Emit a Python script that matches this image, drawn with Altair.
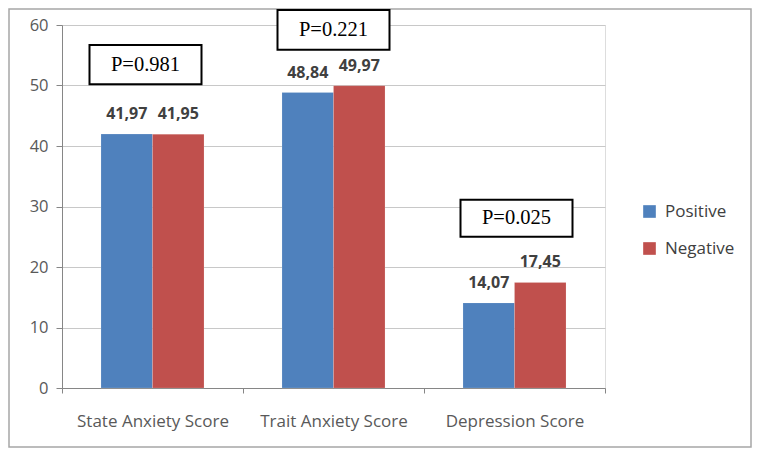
import altair as alt
import pandas as pd

categories = ["State Anxiety Score", "Trait Anxiety Score", "Depression Score"]
groups = ["Positive", "Negative"]
positive = [41.97, 48.84, 14.07]
negative = [41.95, 49.97, 17.45]
p_labels = ["P=0.981", "P=0.221", "P=0.025"]
p_box_top = [56.7, 62.5, 31.1]
p_box_bottom = [50.2, 55.9, 25.0]
p_box_shift = [-7, 0, 2]
y_ticks = [0, 10, 20, 30, 40, 50, 60]

rows = []
for c, pv, nv in zip(categories, positive, negative):
    rows.append({"cat": c, "group": "Positive", "value": pv, "label": f"{pv:.2f}".replace(".", ",")})
    rows.append({"cat": c, "group": "Negative", "value": nv, "label": f"{nv:.2f}".replace(".", ",")})
df = pd.DataFrame(rows)

pdf = pd.DataFrame({"cat": categories, "p": p_labels, "top": p_box_top, "bottom": p_box_bottom,
                    "mid": [(a + b) / 2 for a, b in zip(p_box_top, p_box_bottom)]})

xscale = alt.Scale(domain=categories, paddingInner=0, paddingOuter=0)
xaxis = alt.Axis(title=None, labelAngle=0, labelFont="Open Sans", labelFontSize=17,
                 labelColor="#595959", labelPadding=20, tickBand="extent", tickSize=5,
                 tickColor="#868686", domainColor="#868686", grid=False)
yscale = alt.Scale(domain=[0, 60], nice=False)
yaxis = alt.Axis(title=None, values=y_ticks, labelFont="Open Sans", labelFontSize=16.5,
                 labelColor="#595959", labelPadding=8, tickSize=6, tickColor="#868686",
                 domainColor="#868686", gridColor="#c8c8c8", gridWidth=1.2)

color = alt.Color("group:N", scale=alt.Scale(domain=groups, range=["#4F81BD", "#C0504D"]),
                  legend=alt.Legend(title=None, orient="none", legendX=579, legendY=178,
                                    symbolType="square", symbolSize=160, symbolStrokeWidth=0,
                                    labelFont="Open Sans", labelFontSize=17, labelColor="#404040",
                                    rowPadding=19, labelOffset=7))
xoff = alt.XOffset("group:N", scale=alt.Scale(domain=groups, paddingOuter=0.757, paddingInner=0))

base = alt.Chart(df)
bars = base.mark_bar(stroke="white", strokeWidth=0.5, strokeOpacity=0.3).encode(
    x=alt.X("cat:N", scale=xscale, axis=xaxis, sort=categories),
    xOffset=xoff,
    y=alt.Y("value:Q", scale=yscale, axis=yaxis),
    color=color,
)
labels = base.mark_text(font="Open Sans", fontWeight="bold", fontSize=16, color="#404040",
                        baseline="bottom", dy=-12).encode(
    x=alt.X("cat:N", sort=categories),
    xOffset=xoff,
    y="value:Q",
    text="label:N",
)

p_layers = []
for cat, shift in zip(categories, p_box_shift):
    pbase = alt.Chart(pdf).transform_filter(alt.datum.cat == cat)
    p_layers.append(pbase.mark_bar(width=112, fill="white", stroke="black", strokeWidth=2,
                                   xOffset=shift).encode(
        x=alt.X("cat:N", sort=categories),
        y="top:Q",
        y2="bottom:Q",
    ))
    p_layers.append(pbase.mark_text(font="Liberation Serif", fontSize=20.5, color="black",
                                    baseline="middle", xOffset=shift).encode(
        x=alt.X("cat:N", sort=categories),
        y="mid:Q",
        text="p:N",
    ))

frame = alt.Chart(pd.DataFrame({"a": [0]})).mark_rect(fill=None, stroke="#a6a6a6", strokeWidth=1.5).encode(
    x=alt.value(-53), x2=alt.value(689), y=alt.value(-16), y2=alt.value(422)
)

chart = alt.layer(frame, bars, labels, *p_layers).properties(
    width=543, height=363,
    autosize=alt.AutoSizeParams(type="none"),
    padding={"left": 54, "top": 17, "right": 147, "bottom": 60},
).configure_view(stroke=None).configure(background="white")

chart.save("out.html", embed_options={"renderer": "svg", "actions": False})
